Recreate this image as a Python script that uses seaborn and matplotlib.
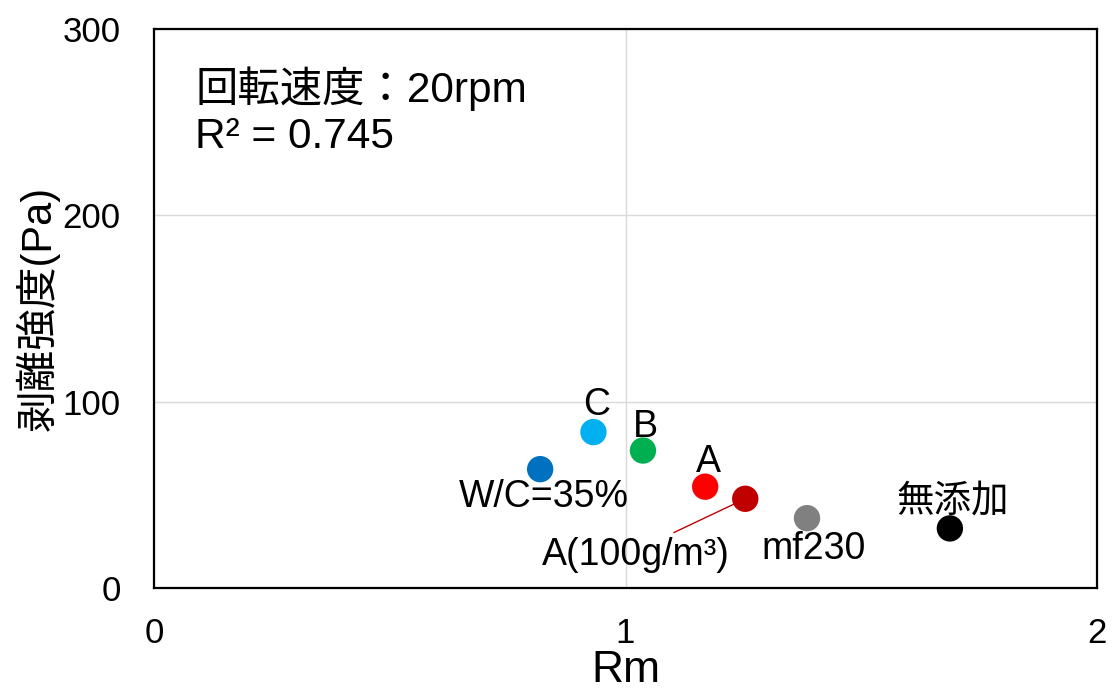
import matplotlib
matplotlib.use("Agg")
import matplotlib.pyplot as plt
import seaborn as sns
import pandas as pd

# Peel strength against Rm for each mix
labels = ["W/C=35%", "C", "B", "A", "A(100g/m³)", "mf230", "無添加"]
rm = [0.819, 0.932, 1.037, 1.169, 1.254, 1.385, 1.688]
strength = [63.8, 83.7, 73.8, 54.4, 47.9, 37.5, 32.0]
colors = ["#0070C0", "#00B0F0", "#00B050", "#FF0000", "#C00000", "#808080", "#000000"]
# label offsets (points) from each marker
offsets = [(3, -20), (2, 19.5), (2, 17), (2.4, 18), (-78.5, -40.5), (5, -22.3), (2, 18.7)]

x_ticks = [0, 1, 2]
y_ticks = [0, 100, 200, 300]

sns.set_theme(style="white")
plt.rcParams["font.family"] = ["Liberation Sans", "Noto Sans CJK JP"]
plt.rcParams["text.color"] = "black"
plt.rcParams["axes.labelcolor"] = "black"

df = pd.DataFrame({"Rm": rm, "strength": strength, "label": labels})

fig = plt.figure(figsize=(11.12, 6.91), dpi=100)
ax = fig.add_axes([0.1385, 0.149, 0.848, 0.809])

sns.scatterplot(data=df, x="Rm", y="strength", hue="label",
                palette=dict(zip(labels, colors)), s=360, linewidth=0,
                legend=False, ax=ax, zorder=3)

for lab, x, y, off in zip(labels, rm, strength, offsets):
    if lab == "A(100g/m³)":
        ax.annotate(lab, xy=(x, y), xytext=off, textcoords="offset points",
                    ha="center", va="center", fontsize=27, color="black",
                    arrowprops=dict(arrowstyle="-", color="#C00000", lw=1.0,
                                    relpos=(0.65, 1.0), shrinkA=2, shrinkB=8))
    else:
        ax.annotate(lab, xy=(x, y), xytext=off, textcoords="offset points",
                    ha="center", va="center", fontsize=27, color="black")

ax.set_xlim(0, 2)
ax.set_ylim(0, 300)
ax.set_xticks(x_ticks)
ax.set_yticks(y_ticks)
ax.grid(True, color="#D9D9D9", linewidth=1.0)
ax.set_axisbelow(True)
ax.tick_params(axis="both", length=0, labelsize=25, colors="black")
ax.tick_params(axis="y", pad=24)
ax.tick_params(axis="x", pad=21)
for sp in ax.spines.values():
    sp.set_color("black")
    sp.set_linewidth(1.6)

ax.set_xlabel("Rm", fontsize=32, labelpad=0)
ax.set_ylabel("剥離強度(Pa)", fontsize=30, labelpad=2)

ax.text(0.0435, 0.894, "回転速度：20rpm", transform=ax.transAxes,
        fontsize=30.5, va="center", ha="left", color="black")
ax.text(0.0435, 0.807, "R² = 0.745", transform=ax.transAxes,
        fontsize=30.5, va="center", ha="left", color="black")

fig.savefig("out.png", dpi=100)
